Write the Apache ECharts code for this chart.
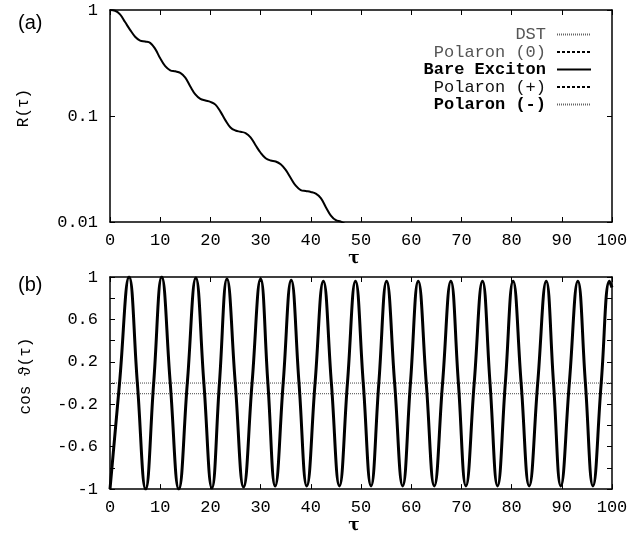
<!DOCTYPE html>
<html>
<head>
<meta charset="utf-8">
<script src="https://cdn.jsdelivr.net/npm/echarts@6/dist/echarts.min.js"></script>
<style>
html, body { margin: 0; padding: 0; background: #fff; }
#chart { width: 642px; height: 535px; }
</style>
</head>
<body>
<div id="chart"></div>
<script>
// panel (a): R(tau), log scale
var rTau = [0, 1, 2, 3, 4, 5, 6, 7, 8, 9, 10, 11, 12, 13, 14, 15, 16, 17, 18, 19, 20, 21, 22, 23, 24,
            25, 26, 27, 28, 29, 30, 31, 32, 33, 34, 35, 36, 37, 38, 39, 40, 41, 42, 43, 44, 45, 46, 47, 48];
var rVal = [1.0, 0.985, 0.91, 0.77, 0.65, 0.56, 0.515, 0.505, 0.49, 0.43, 0.35, 0.295, 0.27, 0.264, 0.255,
            0.23, 0.19, 0.16, 0.145, 0.140, 0.136, 0.128, 0.11, 0.091, 0.078, 0.073, 0.071, 0.069, 0.063,
            0.053, 0.045, 0.040, 0.038, 0.0372, 0.035, 0.031, 0.026, 0.022, 0.0200, 0.0196, 0.0192, 0.0185,
            0.0168, 0.0138, 0.0115, 0.0104, 0.0101, 0.0094, 0.008];

// panel (b): cos theta(tau), extrema and crossings
var cosTau = [0, 1.9, 3.8, 5.45, 7.1, 8.7, 10.3, 12.0, 13.7, 15.4, 17.1, 18.7, 20.3, 21.8, 23.3, 24.95,
              26.6, 28.3, 30.0, 31.45, 32.9, 34.5, 36.1, 37.65, 39.2, 40.85, 42.5, 44.1, 45.7, 47.3, 48.9,
              50.45, 52.0, 53.55, 55.1, 56.7, 58.3, 59.85, 61.4, 63.0, 64.6, 66.25, 67.9, 69.4, 70.9, 72.55,
              74.2, 75.7, 77.2, 78.75, 80.3, 81.9, 83.5, 85.2, 86.9, 88.35, 89.8, 91.5, 93.2, 94.7, 96.2,
              97.85, 99.5, 100];
var cosVal = [-1, 0, 1.0, 0, -1.0, 0, 1.0, 0, -1.0, 0, 0.99, 0, -0.99, 0, 0.98, 0,
              -0.98, 0, 0.98, 0, -0.97, 0, 0.97, 0, -0.97, 0, 0.96, 0, -0.97, 0, 0.96,
              0, -0.97, 0, 0.96, 0, -0.97, 0, 0.96, 0, -0.97, 0, 0.96, 0, -0.97, 0,
              0.96, 0, -0.97, 0, 0.96, 0, -0.97, 0, 0.96, 0, -0.97, 0, 0.96, 0, -0.97,
              0, 0.96, 0.9];

// flat dotted lines in (b)
var flatTau = [0, 100];
var dstCos = [0, 0];
var polMinusCos = [-0.1, -0.1];

var legendNames = ['DST', 'Polaron (0)', 'Bare Exciton', 'Polaron (+)', 'Polaron (-)'];
var xTicks = { min: 0, max: 100, interval: 10 };
var bLabels = ['-1', '-0.6', '-0.2', '0.2', '0.6', '1'];

function zip(a, b) {
    return a.map(function (v, i) { return [v, b[i]]; });
}

var mono = 'Liberation Mono';
var frame = { show: true, onZero: false, lineStyle: { color: '#000', width: 1.5 } };
var ticks = { show: true, inside: true, length: 5, lineStyle: { color: '#000', width: 1 } };
var lbl = { color: '#000', fontFamily: mono, fontSize: 17 };

function xAx(grid, pos, gap) {
    var o = {
        type: 'value', gridIndex: grid, position: pos,
        min: xTicks.min, max: xTicks.max, interval: xTicks.interval,
        axisLine: frame, axisTick: ticks, splitLine: { show: false },
        axisLabel: pos === 'bottom' ? Object.assign({ margin: 10 }, lbl) : { show: false }
    };
    if (pos === 'bottom') {
        o.name = 'τ';
        o.nameLocation = 'middle';
        o.nameGap = gap;
        o.nameTextStyle = { color: '#000', fontFamily: 'DejaVu Serif', fontWeight: 'bold', fontSize: 17, padding: [0, 14, 0, 0] };
    }
    return o;
}

var myChart = echarts.init(document.getElementById('chart'));

var option = {
    animation: false,
    backgroundColor: '#fff',
    title: [
        { text: '(a)', left: 13, top: 8, textStyle: { fontFamily: 'Liberation Sans', fontWeight: 'normal', fontSize: 20, color: '#000' } },
        { text: '(b)', left: 13, top: 270, textStyle: { fontFamily: 'Liberation Sans', fontWeight: 'normal', fontSize: 20, color: '#000' } }
    ],
    legend: {
        orient: 'vertical', align: 'right', right: 45, top: 21,
        itemWidth: 34, itemHeight: 10, itemGap: 0.5,
        itemStyle: { opacity: 0 },
        textStyle: { fontFamily: mono, fontSize: 17, lineHeight: 17, color: '#000', padding: [0, 6, 0, 0] },
        data: [
            { name: legendNames[0], textStyle: { color: '#555' } },
            { name: legendNames[1], textStyle: { color: '#555' } },
            { name: legendNames[2], textStyle: { color: '#000', fontWeight: 'bold' } },
            { name: legendNames[3], textStyle: { color: '#111' } },
            { name: legendNames[4], textStyle: { color: '#000', fontWeight: 'bold' } }
        ]
    },
    grid: [
        { left: 110, top: 10, width: 502, height: 212 },
        { left: 110, top: 277, width: 502, height: 213 }
    ],
    xAxis: [xAx(0, 'bottom', 27), xAx(0, 'top'), xAx(1, 'bottom', 25), xAx(1, 'top')],
    yAxis: [
        {
            type: 'log', gridIndex: 0, position: 'left', logBase: 10, min: 0.01, max: 1,
            axisLine: frame, axisTick: ticks, splitLine: { show: false }, minorTick: { show: false },
            axisLabel: Object.assign({ margin: 12 }, lbl),
            name: 'R(τ)', nameLocation: 'middle', nameGap: 78,
            nameTextStyle: { color: '#000', fontFamily: mono, fontSize: 16, padding: [0, 0, 0, 16] }
        },
        {
            type: 'log', gridIndex: 0, position: 'right', logBase: 10, min: 0.01, max: 1,
            axisLine: frame, axisTick: ticks, splitLine: { show: false }, axisLabel: { show: false }
        },
        {
            type: 'value', gridIndex: 1, position: 'left', min: -1, max: 1, interval: 0.2,
            axisLine: frame, axisTick: ticks, splitLine: { show: false },
            axisLabel: Object.assign({
                margin: 12,
                formatter: function (v) {
                    var s = String(+(+v).toFixed(1));
                    return bLabels.indexOf(s) >= 0 ? s : '';
                }
            }, lbl),
            name: 'cos ϑ(τ)', nameLocation: 'middle', nameGap: 76,
            nameTextStyle: { color: '#000', fontFamily: mono, fontSize: 16, padding: [0, 0, 0, 14] }
        },
        {
            type: 'value', gridIndex: 1, position: 'right', min: -1, max: 1, interval: 0.2,
            axisLine: frame, axisTick: ticks, splitLine: { show: false }, axisLabel: { show: false }
        }
    ],
    series: [
        {
            name: 'Bare Exciton', type: 'line', xAxisIndex: 0, yAxisIndex: 0,
            data: zip(rTau, rVal), smooth: 0.4, symbol: 'none', clip: true,
            color: '#000', lineStyle: { color: '#000', width: 2 }
        },
        {
            name: 'Bare Exciton', type: 'line', xAxisIndex: 2, yAxisIndex: 2,
            data: zip(cosTau, cosVal), smooth: 0.45, symbol: 'none', clip: true,
            color: '#000', lineStyle: { color: '#000', width: 3 }
        },
        {
            name: 'DST', type: 'line', xAxisIndex: 2, yAxisIndex: 2,
            data: zip(flatTau, dstCos), symbol: 'none', z: 1,
            color: '#666', lineStyle: { color: '#666', width: 1.2, type: [1, 1] }
        },
        {
            name: 'Polaron (-)', type: 'line', xAxisIndex: 2, yAxisIndex: 2,
            data: zip(flatTau, polMinusCos), symbol: 'none', z: 1,
            color: '#666', lineStyle: { color: '#666', width: 1.2, type: [1, 1] }
        },
        {
            name: 'Polaron (0)', type: 'line', xAxisIndex: 0, yAxisIndex: 0,
            data: [], symbol: 'none',
            color: '#000', lineStyle: { color: '#000', width: 2, type: [3, 2] }
        },
        {
            name: 'Polaron (+)', type: 'line', xAxisIndex: 0, yAxisIndex: 0,
            data: [], symbol: 'none',
            color: '#000', lineStyle: { color: '#000', width: 1, type: [3, 2] }
        }
    ]
};

myChart.setOption(option);
</script>
</body>
</html>
